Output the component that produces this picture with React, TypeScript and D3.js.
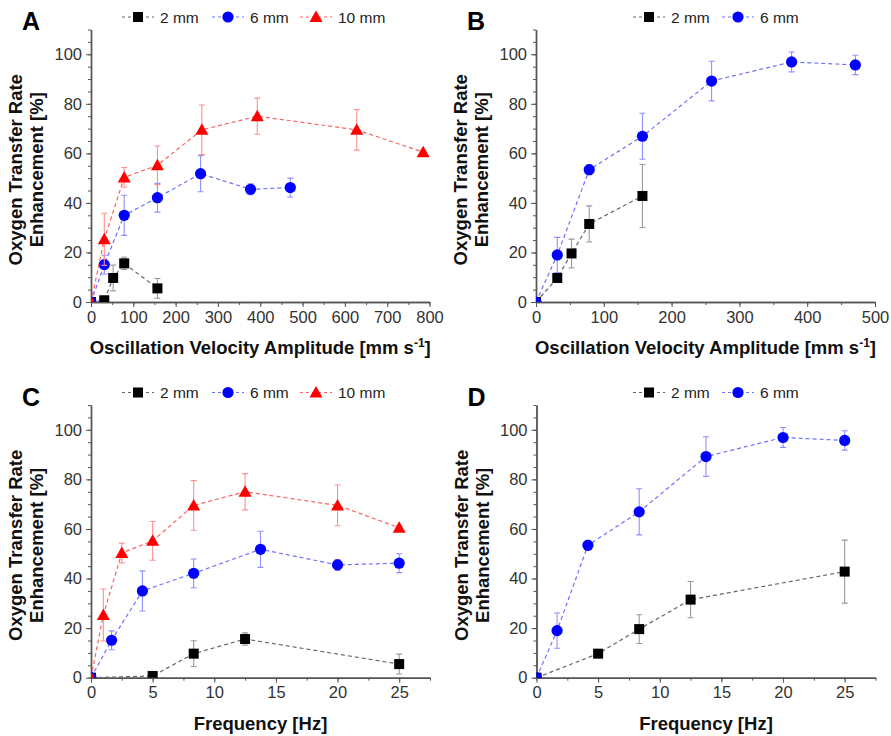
import * as d3 from 'd3';
import { useEffect, useRef } from 'react';

// experiment 1 (panels A and C)
const freq2A = [0, 5, 8.33, 12.5, 25];
const vel2A = [0, 31.4, 52.4, 78.5, 157];
const otr2A = [0, 0.7, 9.7, 15.6, 5.5];
const err2A = [0, 0, 5.2, 2.5, 4];

const freq6A = [0, 1.67, 4.17, 8.33, 13.75, 20, 25];
const vel6A = [0, 31.4, 78.5, 157, 259, 377, 471];
const otr6A = [0, 15.1, 35, 42.1, 51.8, 45.5, 46.2];
const err6A = [0, 3.8, 8.1, 5.8, 7.3, 2.2, 3.8];

const freq10A = [0, 1, 2.5, 5, 8.33, 12.5, 20, 25];
const vel10A = [0, 31.4, 78.5, 157, 262, 393, 628, 785];
const otr10A = [0, 25.3, 50.3, 55.2, 69.5, 75, 69.5, 60.5];
const err10A = [0, 10.5, 4, 7.8, 10, 7.3, 8.2, 0.8];

// experiment 2 (panels B and D)
const freq2B = [0, 5, 8.33, 12.5, 25];
const vel2B = [0, 31.4, 52.4, 78.5, 157];
const otr2B = [0, 9.7, 19.6, 31.5, 42.8];
const err2B = [0, 1, 5.8, 7.3, 12.7];

const freq6B = [0, 1.67, 4.17, 8.33, 13.75, 20, 25];
const vel6B = [0, 31.4, 78.5, 157, 259, 377, 471];
const otr6B = [0, 19, 53.4, 66.9, 89.2, 96.9, 95.7];
const err6B = [0, 7.1, 2, 9.3, 8, 4, 3.9];

const yMajor = [0, 20, 40, 60, 80, 100];
const velTicksA = [0, 100, 200, 300, 400, 500, 600, 700, 800];
const velTicksB = [0, 100, 200, 300, 400, 500];
const freqTicks = [0, 5, 10, 15, 20, 25];

const font = '"Liberation Sans", Arial, sans-serif';

const styles = {
  '2 mm': { shape: 'square', fill: '#000', line: '#666', err: '#9a9a9a' },
  '6 mm': { shape: 'circle', fill: '#0000ff', line: '#7070ff', err: '#9090ff' },
  '10 mm': { shape: 'triangle', fill: '#ff0000', line: '#ff6060', err: '#ff9090' },
};

function drawMarker(g, shape, color) {
  if (shape === 'square') {
    g.append('rect').attr('x', -5).attr('y', -5).attr('width', 10).attr('height', 10).attr('fill', color);
  } else if (shape === 'circle') {
    g.append('circle').attr('r', 5.6).attr('fill', color);
  } else {
    g.append('path').attr('d', 'M0,-6.5 L6.5,5 L-6.5,5 Z').attr('fill', color);
  }
}

function App() {
  const ref = useRef(null);

  useEffect(() => {
    document.body.style.margin = '0';
    const svg = d3.select(ref.current);
    svg.selectAll('*').remove();

    const panels = [
      {
        id: 'A', x0: 91, x1: 429.5, y0: 302, y1: 29.5, domain: [0, 800], ticks: velTicksA, minorStep: 50,
        label: 'vel', legend: [122, 212, 300],
        series: [
          { name: '2 mm', xs: vel2A, ys: otr2A, es: err2A },
          { name: '6 mm', xs: vel6A, ys: otr6A, es: err6A },
          { name: '10 mm', xs: vel10A, ys: otr10A, es: err10A },
        ],
      },
      {
        id: 'B', x0: 536, x1: 875, y0: 302, y1: 29.5, domain: [0, 500], ticks: velTicksB, minorStep: 50,
        label: 'vel', legend: [633, 722],
        series: [
          { name: '2 mm', xs: vel2B, ys: otr2B, es: err2B },
          { name: '6 mm', xs: vel6B, ys: otr6B, es: err6B },
        ],
      },
      {
        id: 'C', x0: 91, x1: 430, y0: 677.7, y1: 405, domain: [0, 27.5], ticks: freqTicks, minorStep: 2.5,
        label: 'freq', legend: [122, 212, 300],
        series: [
          { name: '2 mm', xs: freq2A, ys: otr2A, es: err2A },
          { name: '6 mm', xs: freq6A, ys: otr6A, es: err6A },
          { name: '10 mm', xs: freq10A, ys: otr10A, es: err10A },
        ],
      },
      {
        id: 'D', x0: 536.5, x1: 875.5, y0: 677.7, y1: 405, domain: [0, 27.5], ticks: freqTicks, minorStep: 2.5,
        label: 'freq', legend: [633, 722],
        series: [
          { name: '2 mm', xs: freq2B, ys: otr2B, es: err2B },
          { name: '6 mm', xs: freq6B, ys: otr6B, es: err6B },
        ],
      },
    ];

    panels.forEach((p) => {
      const x = d3.scaleLinear().domain(p.domain).range([p.x0, p.x1]);
      const y = d3.scaleLinear().domain([0, 110]).range([p.y0, p.y1]);
      const g = svg.append('g');

      // clip for marks
      svg.append('clipPath').attr('id', `clip${p.id}`)
        .append('rect')
        .attr('x', p.x0).attr('y', p.y1)
        .attr('width', p.x1 - p.x0).attr('height', p.y0 - p.y1);

      // axes: minor ticks
      const xMinor = d3.range(0, p.domain[1] + 0.001, p.minorStep);
      const yMinor = d3.range(0, 110.001, 5);
      g.append('g').attr('transform', `translate(0,${p.y0})`)
        .call(d3.axisBottom(x).tickValues(xMinor).tickSize(3).tickSizeOuter(0).tickFormat(() => ''));
      g.append('g').attr('transform', `translate(${p.x0},0)`)
        .call(d3.axisLeft(y).tickValues(yMinor).tickSize(3).tickSizeOuter(0).tickFormat(() => ''));
      // major
      const xa = g.append('g').attr('transform', `translate(0,${p.y0})`)
        .call(d3.axisBottom(x).tickValues(p.ticks).tickSize(5).tickSizeOuter(0).tickPadding(4));
      const ya = g.append('g').attr('transform', `translate(${p.x0},0)`)
        .call(d3.axisLeft(y).tickValues(yMajor).tickSize(5).tickSizeOuter(0).tickPadding(4));
      g.selectAll('.domain').attr('stroke', '#555').attr('stroke-width', 1.4);
      g.selectAll('.tick line').attr('stroke', '#555').attr('stroke-width', 1);
      [xa, ya].forEach((a) => a.selectAll('text')
        .attr('fill', '#333').style('font-family', font).style('font-size', '16.5px'));

      // axis labels
      const ylab = g.append('text')
        .attr('transform', `translate(${p.x0 - 69},${(p.y0 + p.y1) / 2 + 4}) rotate(-90)`)
        .attr('text-anchor', 'middle').style('font-family', font).style('font-weight', 'bold')
        .style('font-size', '18.5px').attr('fill', '#111');
      ylab.append('tspan').attr('x', 0).attr('dy', 0).text('Oxygen Transfer Rate');
      ylab.append('tspan').attr('x', 0).attr('dy', 21).text('Enhancement [%]');

      const xlab = g.append('text')
        .attr('x', (p.x0 + p.x1) / 2).attr('y', p.y0 + 52)
        .attr('text-anchor', 'middle').style('font-family', font).style('font-weight', 'bold')
        .style('font-size', '18.5px').attr('fill', '#111');
      if (p.label === 'vel') {
        xlab.append('tspan').text('Oscillation Velocity Amplitude [mm s');
        xlab.append('tspan').attr('dy', -7).style('font-size', '12px').text('-1');
        xlab.append('tspan').attr('dy', 7).text(']');
      } else {
        xlab.text('Frequency [Hz]');
      }

      // panel letter
      g.append('text').attr('x', p.x0 - 69).attr('y', p.y1 + 0.5)
        .style('font-family', font).style('font-weight', 'bold').style('font-size', '25px')
        .attr('fill', '#000').text(p.id);

      // series
      const marks = g.append('g').attr('clip-path', `url(#clip${p.id})`);
      p.series.forEach((s) => {
        const st = styles[s.name];
        const pts = s.xs.map((v, i) => [v, s.ys[i], s.es[i]]);
        marks.append('path')
          .attr('d', d3.line().x((d) => x(d[0])).y((d) => y(d[1]))(pts))
          .attr('fill', 'none').attr('stroke', st.line).attr('stroke-width', 1.2)
          .attr('stroke-dasharray', '4,3');
        pts.filter((d) => d[2] > 0).forEach((d) => {
          const cx = x(d[0]);
          const eb = marks.append('g').attr('stroke', st.err).attr('stroke-width', 1.1);
          eb.append('line').attr('x1', cx).attr('x2', cx).attr('y1', y(d[1] - d[2])).attr('y2', y(d[1] + d[2]));
          eb.append('line').attr('x1', cx - 3).attr('x2', cx + 3).attr('y1', y(d[1] + d[2])).attr('y2', y(d[1] + d[2]));
          eb.append('line').attr('x1', cx - 3).attr('x2', cx + 3).attr('y1', y(d[1] - d[2])).attr('y2', y(d[1] - d[2]));
        });
        pts.forEach((d) => {
          const m = marks.append('g').attr('transform', `translate(${x(d[0])},${y(d[1])})`);
          drawMarker(m, st.shape, st.fill);
        });
      });

      // legend
      const ly = p.y1 - 12.5;
      p.series.forEach((s, i) => {
        const st = styles[s.name];
        const lx = p.legend[i];
        const lg = g.append('g');
        lg.append('line').attr('x1', lx).attr('x2', lx + 32).attr('y1', ly).attr('y2', ly)
          .attr('stroke', st.line).attr('stroke-width', 1.2).attr('stroke-dasharray', '3,3');
        const m = lg.append('g').attr('transform', `translate(${lx + 16},${ly})`);
        drawMarker(m, st.shape, st.fill);
        lg.append('text').attr('x', lx + 38).attr('y', ly + 5.5)
          .style('font-family', font).style('font-size', '15.5px').attr('fill', '#222').text(s.name);
      });
    });
  }, []);

  return <svg ref={ref} width={891} height={736} style={{ display: 'block', background: '#fff' }} />;
}

export default App;
